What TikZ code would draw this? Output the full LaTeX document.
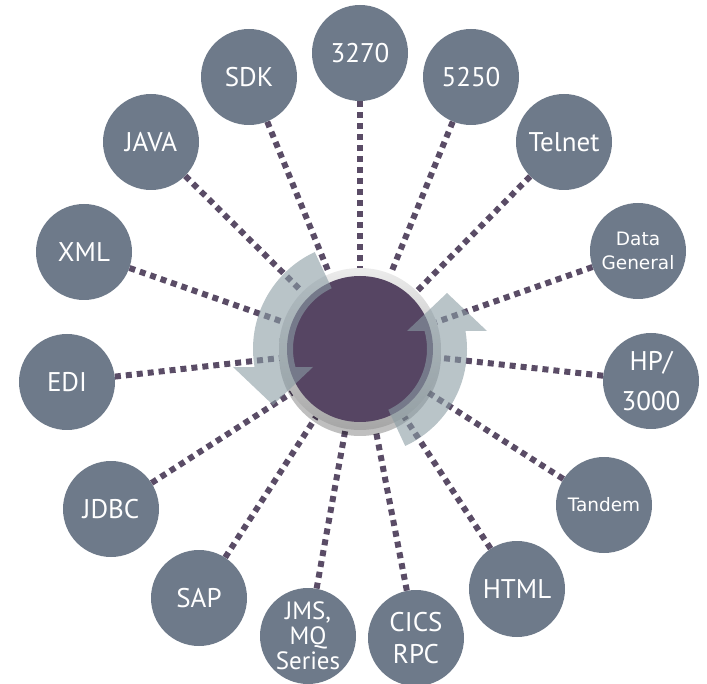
\documentclass[tikz,border=0pt]{standalone}
\usepackage{fontspec}
\setmainfont{PT Sans}
\newfontfamily\verdfont{DejaVu Sans}
\usetikzlibrary{backgrounds}
\definecolor{satcol}{RGB}{110,122,138}
\definecolor{hubcol}{RGB}{86,69,99}
\definecolor{dotcol}{RGB}{90,76,102}
\definecolor{bandcol}{RGB}{138,156,164}
\tikzset{
	satnode/.style={circle,fill=satcol,minimum size=96pt,inner sep=0pt,
		text=white,align=center,font=\fontsize{27}{32}\selectfont},
	smalltxt/.style={font=\verdfont\fontsize{18.5}{24}\selectfont},
	link/.style={draw=dotcol,line width=6pt,dash pattern=on 6pt off 5pt},
	band/.style={fill=bandcol,opacity=.6}
}
\begin{document}
\begin{tikzpicture}[x=1pt,y=1pt,line join=round]
	\useasboundingbox (0,0) rectangle (707,-684);
	% hub
	\node[circle,minimum size=162pt,inner sep=0pt] (hub) at (360,-349) {};
	% satellites
	\node[satnode] (s3270) at (360,-53) {3270};
	\node[satnode] (s5250) at (471,-77) {5250};
	\node[satnode] (sdk) at (249,-77) {SDK};
	\node[satnode] (telnet) at (564,-142) {Telnet};
	\node[satnode] (java) at (151,-142) {JAVA};
	\node[satnode] (xml) at (84,-252) {XML};
	\node[satnode,smalltxt] (dgen) at (638,-251) {Data\\General};
	\node[satnode] (edi) at (67,-382) {EDI};
	\node[satnode,font=\fontsize{27}{40}\selectfont] (hp) at (651,-381) {HP/\\3000};
	\node[satnode] (jdbc) at (111,-509) {JDBC};
	\node[satnode,smalltxt] (tandem) at (604,-505) {Tandem};
	\node[satnode] (sap) at (199,-598) {SAP};
	\node[satnode] (html) at (517,-589) {HTML};
	\node[satnode,font=\fontsize{25}{25}\selectfont] (jms) at (308,-636) {JMS,\\MQ\\Series};
	\node[satnode] (cics) at (416,-638) {CICS\\RPC};
	% dotted links
	\begin{scope}[on background layer]
		\foreach \s in {s3270,s5250,sdk,telnet,java,xml,dgen,edi,hp,jdbc,tandem,sap,html,jms,cics}
		\draw[link] (\s) -- (hub);
	\end{scope}
	\begin{scope}[shift={(360,-349)}]
		% shadow, ring and disc
		\fill[black,opacity=.25] (0,-6) circle (81);
		\shade[top color=gray!15,bottom color=gray!70] (0,0) circle (81);
		\fill[hubcol] (0,0) circle (73);
		% cycle arrows
		\fill[band] (115:107) arc[start angle=115,end angle=189.7,radius=107]
			-- (-127,-18) -- (-87,-56) -- (-47,-18)
			-- (195.6:67) arc[start angle=195.6,end angle=115,radius=67] -- cycle;
		\fill[band] (295:107) arc[start angle=295,end angle=369.7,radius=107]
			-- (127,18) -- (87,56) -- (47,18)
			-- (15.6:67) arc[start angle=15.6,end angle=-65,radius=67] -- cycle;
	\end{scope}
\end{tikzpicture}
\end{document}
